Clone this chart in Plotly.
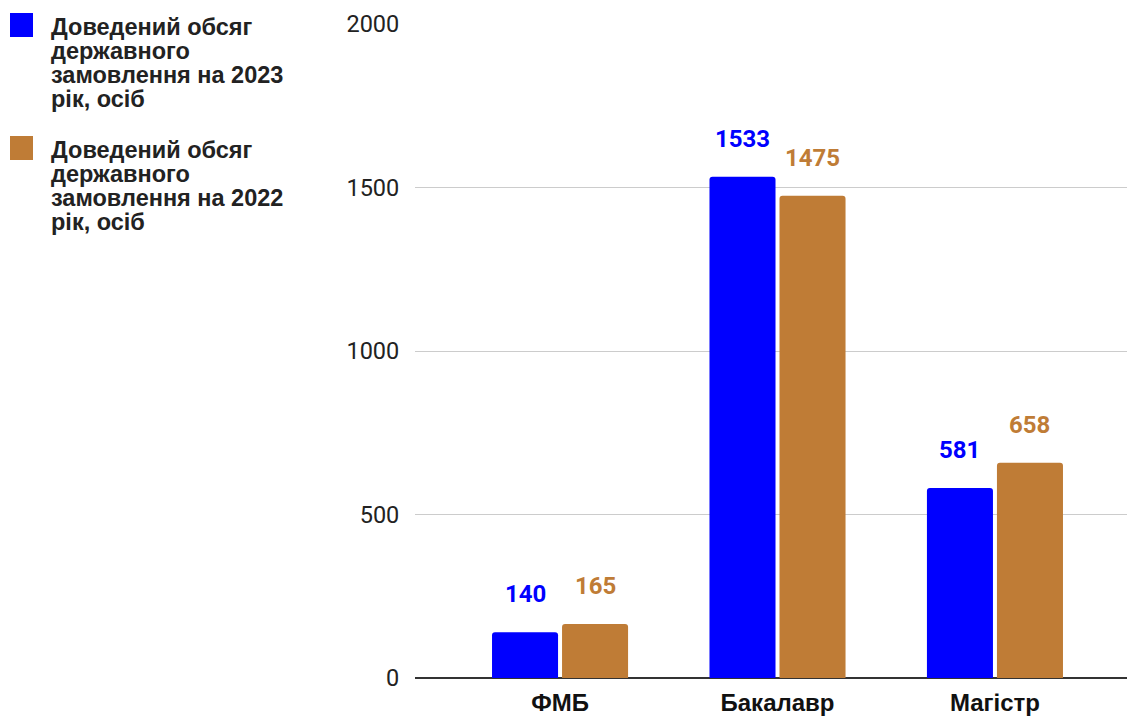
import plotly.graph_objects as go

categories = ["ФМБ", "Бакалавр", "Магістр"]
series_names = [
    "Доведений обсяг державного замовлення на 2023 рік, осіб",
    "Доведений обсяг державного замовлення на 2022 рік, осіб",
]
legend_lines = [
    ["Доведений обсяг", "державного", "замовлення на 2023", "рік, осіб"],
    ["Доведений обсяг", "державного", "замовлення на 2022", "рік, осіб"],
]
values_2023 = [140, 1533, 581]
values_2022 = [165, 1475, 658]
y_ticks = [0, 500, 1000, 1500, 2000]

colors = ["#0000FF", "#BF7C36"]
series_values = [values_2023, values_2022]
bar_shift = [-35, 35]  # pixel offset of each series' bar centre within a group

fig = go.Figure()
for name, vals, col in zip(series_names, series_values, colors):
    fig.add_trace(go.Bar(
        x=categories, y=vals, name=name,
        marker=dict(color=col, cornerradius=3, line=dict(width=0)),
        showlegend=False,
        hoverinfo="x+y+name",
    ))

# value labels above bars
for vals, col, dx in zip(series_values, colors, bar_shift):
    for cat, v in zip(categories, vals):
        fig.add_annotation(
            x=cat, y=v, xref="x", yref="y", text=str(v), showarrow=False,
            xanchor="center", yanchor="middle", xshift=dx, yshift=38,
            font=dict(family="Roboto", size=24, color=col, weight="bold"),
        )

# manual legend (large square swatches, wrapped text)
item_offsets = [0, 123]
line_centres = [3, 27, 51, 75]
for lines, col, off in zip(legend_lines, colors, item_offsets):
    fig.add_shape(type="rect", xref="paper", yref="paper",
                  xsizemode="pixel", ysizemode="pixel", xanchor=0, yanchor=1,
                  x0=-405, x1=-382, y0=11 - off, y1=-13 - off,
                  fillcolor=col, line=dict(width=0), layer="above")
    for ln, lc in zip(lines, line_centres):
        fig.add_annotation(xref="paper", yref="paper", x=0, y=1,
                           xshift=-366, yshift=-(lc + off),
                           xanchor="left", yanchor="middle", align="left",
                           showarrow=False, text=ln,
                           font=dict(family="Liberation Sans", size=23.5,
                                     color="#222222", weight="bold"))

fig.update_layout(
    width=1127, height=710,
    margin=dict(l=407, r=0, t=16, b=40),
    paper_bgcolor="white", plot_bgcolor="white",
    barmode="group", bargap=0.356, bargroupgap=0.057,
)
fig.update_xaxes(
    range=[-0.667, 2.644], showgrid=False, automargin=False,
    tickfont=dict(family="Liberation Sans", size=24, color="#111111", weight="bold"),
    ticks="outside", ticklen=3, tickcolor="rgba(0,0,0,0)",
    showline=False, zeroline=False,
)
fig.update_yaxes(
    range=[0, 2000], tickvals=y_ticks, automargin=False,
    showgrid=True, gridcolor="#CCCCCC", gridwidth=1,
    zeroline=True, zerolinecolor="#333333", zerolinewidth=2,
    tickfont=dict(family="Roboto", size=23.5, color="#222222"),
    ticks="outside", ticklen=10, tickcolor="rgba(0,0,0,0)",
    showline=False,
)

fig.write_html("out.html")
